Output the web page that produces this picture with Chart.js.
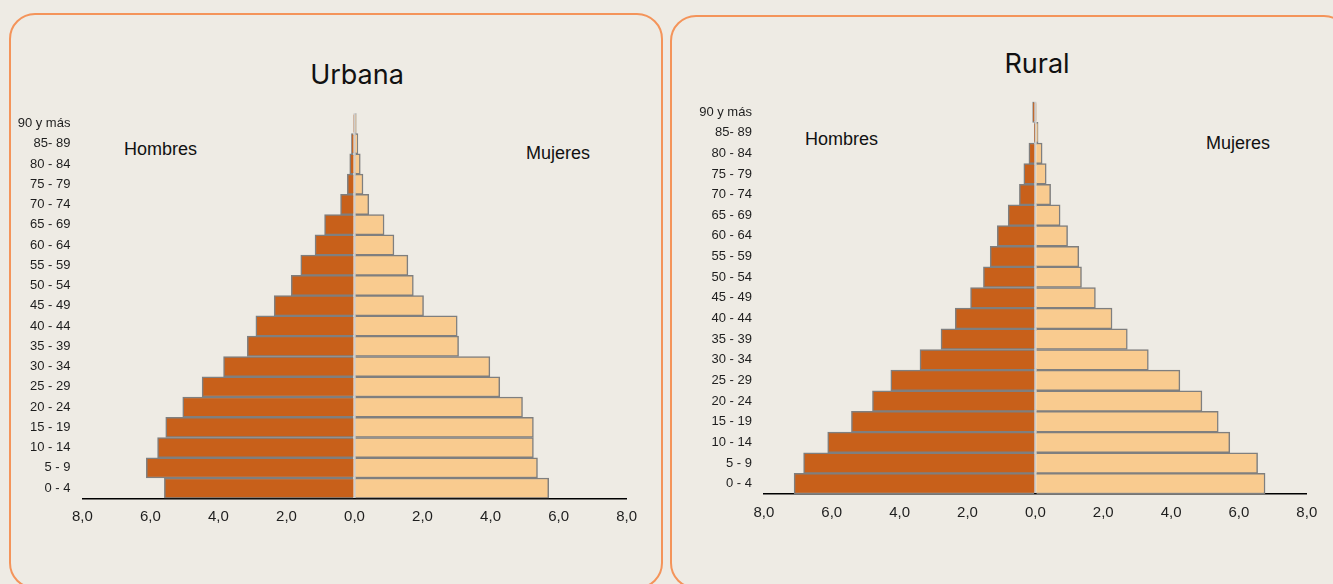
<!DOCTYPE html>
<html>
<head>
<meta charset="utf-8">
<title>Pirámides de población urbana y rural</title>
<script src="https://cdn.jsdelivr.net/npm/chart.js@4.4.0/dist/chart.umd.min.js"></script>
<style>
  html, body {
    margin: 0; padding: 0;
    width: 1333px; height: 584px; overflow: hidden;
    background: #EEEBE4;
    font-family: "Liberation Sans", Arial, sans-serif;
    color: #1e1e1e;
  }
  .panel {
    position: absolute; box-sizing: border-box;
    border: 2.5px solid #F4945A; border-radius: 26px;
  }
  .title {
    position: absolute; white-space: nowrap;
    font-family: Inter, "Open Sans", sans-serif; font-weight: 400;
    font-size: 27px; line-height: 27px; color: #111;
    transform: translateX(-50%);
  }
  .sex {
    position: absolute; white-space: nowrap;
    font-size: 18px; line-height: 18px; color: #111;
  }
  canvas { position: absolute; top: 0; }
</style>
</head>
<body>
  <div class="panel" style="left:9px; top:13px; width:654px; height:576px;"></div>
  <div class="panel" style="left:670px; top:15px; width:680px; height:574px;"></div>

  <div class="title" style="left:357px; top:61px;">Urbana</div>
  <div class="title" style="left:1037px; top:50px;">Rural</div>

  <div class="sex" style="left:124px; top:140px;">Hombres</div>
  <div class="sex" style="left:526px; top:144px;">Mujeres</div>
  <div class="sex" style="left:805px; top:130px;">Hombres</div>
  <div class="sex" style="left:1206px; top:134px;">Mujeres</div>

  <canvas id="urbana" width="666" height="584" style="left:0;"></canvas>
  <canvas id="rural" width="667" height="584" style="left:666px;"></canvas>

<script>
// Age groups, oldest at the top
const ageGroups = ['90 y más', '85- 89', '80 - 84', '75 - 79', '70 - 74', '65 - 69',
  '60 - 64', '55 - 59', '50 - 54', '45 - 49', '40 - 44', '35 - 39', '30 - 34',
  '25 - 29', '20 - 24', '15 - 19', '10 - 14', '5 - 9', '0 - 4'];

// Share of the population (%) in each age group
const urbanMen   = [0.03, 0.09, 0.14, 0.21, 0.41, 0.88, 1.16, 1.58, 1.86, 2.36, 2.90, 3.15,
  3.85, 4.48, 5.05, 5.55, 5.79, 6.12, 5.59];
const urbanWomen = [0.05, 0.10, 0.17, 0.25, 0.42, 0.87, 1.16, 1.57, 1.73, 2.03, 3.02, 3.06,
  3.98, 4.27, 4.94, 5.26, 5.26, 5.38, 5.71];
const ruralMen   = [0.08, 0.02, 0.19, 0.34, 0.47, 0.80, 1.12, 1.33, 1.53, 1.91, 2.36, 2.78,
  3.40, 4.26, 4.80, 5.42, 6.12, 6.83, 7.11];
const ruralWomen = [0.03, 0.08, 0.20, 0.32, 0.45, 0.73, 0.95, 1.28, 1.36, 1.77, 2.26, 2.71,
  3.33, 4.26, 4.91, 5.39, 5.73, 6.55, 6.77];

// Axis ticks: -8 … 8 in steps of 2, shown as absolute values
const axisMin = -8, axisMax = 8, axisStep = 2;

const MEN_COLOR = '#C8601A';
const WOMEN_COLOR = '#F9CB8F';
const EDGE_COLOR = '#7F7F7F';
const ZERO_COLOR = '#CDCDCD';
const TEXT_COLOR = '#1e1e1e';
const FONT = '"Liberation Sans", Arial, sans-serif';

function pyramid(id, men, women, box) {
  return new Chart(document.getElementById(id), {
    type: 'bar',
    data: {
      labels: ageGroups,
      datasets: [
        { label: 'Hombres', data: men.map(v => -v), backgroundColor: MEN_COLOR,
          borderColor: EDGE_COLOR, borderWidth: 1.5 },
        { label: 'Mujeres', data: women, backgroundColor: WOMEN_COLOR,
          borderColor: EDGE_COLOR, borderWidth: 1.5 }
      ]
    },
    options: {
      indexAxis: 'y',
      responsive: false,
      animation: false,
      devicePixelRatio: 1,
      layout: { padding: box.padding },
      datasets: { bar: { barPercentage: 1, categoryPercentage: 1 } },
      plugins: { legend: { display: false }, tooltip: { enabled: false } },
      scales: {
        x: {
          type: 'linear', stacked: true, min: axisMin, max: axisMax, z: 1,
          ticks: {
            stepSize: axisStep, padding: 10, color: TEXT_COLOR,
            font: { family: FONT, size: 15 },
            callback: v => Math.abs(v).toFixed(1).replace('.', ',')
          },
          grid: {
            drawTicks: false,
            color: c => (c.tick && c.tick.value === 0) ? ZERO_COLOR : 'rgba(0,0,0,0)',
            lineWidth: c => (c.tick && c.tick.value === 0) ? 2 : 1
          },
          border: { display: true, color: '#000', width: 1.5 },
          afterFit: s => { s.height = 40; }
        },
        y: {
          stacked: true,
          grid: { display: false, drawTicks: false },
          border: { display: false },
          ticks: { padding: 12, color: TEXT_COLOR, autoSkip: false,
                   font: { family: FONT, size: 13 } },
          afterFit: s => { s.width = box.yWidth; }
        }
      }
    }
  });
}

pyramid('urbana', urbanMen, urbanWomen, {
  yWidth: 72,
  padding: { left: 10.4, right: 39.4, top: 113.3, bottom: 45.7 }
});
pyramid('rural', ruralMen, ruralWomen, {
  yWidth: 85,
  padding: { left: 12.9, right: 26.2, top: 101.7, bottom: 50 }
});
</script>
</body>
</html>
